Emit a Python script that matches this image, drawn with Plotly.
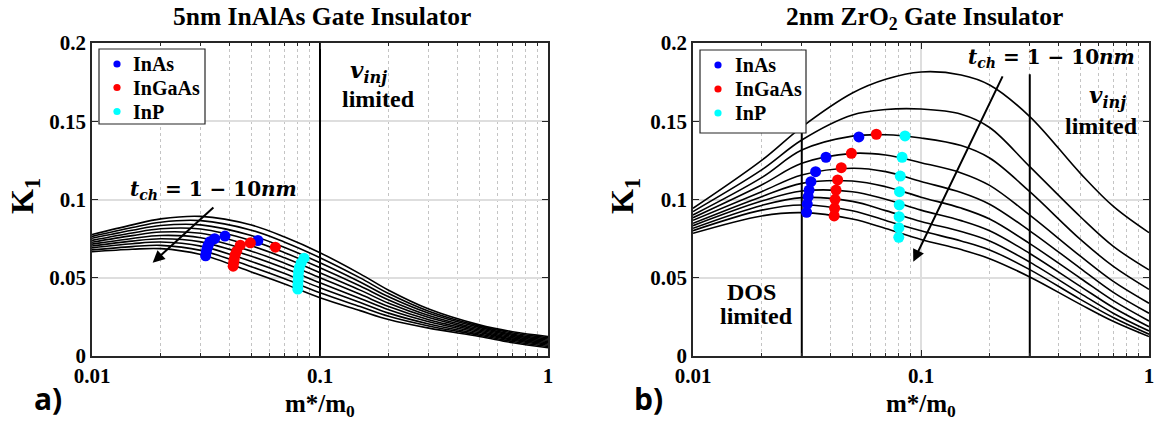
import math
import plotly.graph_objects as go

# ---------------- data ----------------
# effective mass grid (m*/m0) used to sample the curves
m_a = [0.01, 0.015, 0.02, 0.03, 0.05, 0.07, 0.1, 0.15, 0.2, 0.3, 0.5, 0.7, 1.0]
m_b = [0.01, 0.02, 0.03, 0.05, 0.07, 0.1, 0.15, 0.2, 0.3, 0.5, 0.7, 1.0]

# panel a) 5nm InAlAs insulator, t_ch = 1..10 nm (top to bottom)
a_t1 = [0.0776, 0.0838, 0.0876, 0.0892, 0.0837, 0.0760, 0.0660, 0.0525, 0.0420, 0.0300, 0.0199, 0.0155, 0.0125]
a_t2 = [0.0764, 0.0821, 0.0855, 0.0865, 0.0804, 0.0727, 0.0628, 0.0499, 0.0399, 0.0286, 0.0191, 0.0147, 0.0117]
a_t3 = [0.0752, 0.0803, 0.0834, 0.0838, 0.0770, 0.0693, 0.0596, 0.0473, 0.0378, 0.0273, 0.0183, 0.0139, 0.0109]
a_t4 = [0.0739, 0.0786, 0.0813, 0.0811, 0.0737, 0.0660, 0.0564, 0.0447, 0.0358, 0.0259, 0.0174, 0.0132, 0.0101]
a_t5 = [0.0727, 0.0769, 0.0792, 0.0784, 0.0704, 0.0627, 0.0532, 0.0421, 0.0337, 0.0246, 0.0166, 0.0124, 0.0093]
a_t6 = [0.0715, 0.0751, 0.0770, 0.0756, 0.0670, 0.0593, 0.0500, 0.0394, 0.0316, 0.0232, 0.0158, 0.0116, 0.0085]
a_t7 = [0.0703, 0.0734, 0.0749, 0.0729, 0.0637, 0.0560, 0.0468, 0.0368, 0.0295, 0.0219, 0.0150, 0.0108, 0.0077]
a_t8 = [0.0691, 0.0717, 0.0728, 0.0702, 0.0604, 0.0527, 0.0436, 0.0342, 0.0274, 0.0205, 0.0141, 0.0101, 0.0069]
a_t9 = [0.0678, 0.0699, 0.0707, 0.0675, 0.0570, 0.0493, 0.0404, 0.0316, 0.0254, 0.0192, 0.0133, 0.0093, 0.0061]
a_t10 = [0.0666, 0.0682, 0.0686, 0.0648, 0.0537, 0.0460, 0.0372, 0.0290, 0.0233, 0.0178, 0.0125, 0.0085, 0.0053]

# panel b) 2nm ZrO2 insulator, t_ch = 1..10 nm (top to bottom)
b_t1 = [0.0944, 0.1250, 0.1463, 0.1680, 0.1768, 0.1815, 0.1796, 0.1732, 0.1530, 0.1167, 0.0954, 0.0788]
b_t2 = [0.0923, 0.1189, 0.1380, 0.1540, 0.1575, 0.1578, 0.1545, 0.1460, 0.1210, 0.0890, 0.0699, 0.0550]
b_t3 = [0.0901, 0.1140, 0.1316, 0.1405, 0.1414, 0.1393, 0.1345, 0.1265, 0.1050, 0.0745, 0.0571, 0.0426]
b_t4 = [0.0884, 0.1093, 0.1231, 0.1295, 0.1284, 0.1235, 0.1170, 0.1090, 0.0900, 0.0638, 0.0475, 0.0337]
b_t5 = [0.0867, 0.1050, 0.1157, 0.1200, 0.1178, 0.1115, 0.1045, 0.0970, 0.0800, 0.0560, 0.0405, 0.0273]
b_t6 = [0.0848, 0.1018, 0.1103, 0.1118, 0.1082, 0.1015, 0.0945, 0.0875, 0.0718, 0.0497, 0.0352, 0.0224]
b_t7 = [0.0833, 0.0990, 0.1054, 0.1050, 0.1001, 0.0932, 0.0865, 0.0800, 0.0655, 0.0445, 0.0308, 0.0187]
b_t8 = [0.0816, 0.0962, 0.1012, 0.0988, 0.0929, 0.0860, 0.0795, 0.0735, 0.0600, 0.0400, 0.0272, 0.0160]
b_t9 = [0.0801, 0.0932, 0.0965, 0.0928, 0.0866, 0.0800, 0.0735, 0.0678, 0.0552, 0.0362, 0.0244, 0.0139]
b_t10 = [0.0784, 0.0895, 0.0916, 0.0875, 0.0815, 0.0745, 0.0680, 0.0622, 0.0505, 0.0330, 0.0220, 0.0124]

# material points (t_ch = 3..10 nm)
inas_m = [0.0534, 0.0383, 0.0345, 0.0329, 0.0323, 0.0320, 0.0317, 0.0315]
ingaas_m = [0.0637, 0.0495, 0.0447, 0.0431, 0.0424, 0.0420, 0.0418, 0.0416]
inp_m = [0.0851, 0.0826, 0.0811, 0.0805, 0.0803, 0.0802, 0.0800, 0.0799]

inas_Ka = [0.0738, 0.0766, 0.0750, 0.0730, 0.0706, 0.0688, 0.0665, 0.0640]
ingaas_Ka = [0.0695, 0.0723, 0.0708, 0.0670, 0.0644, 0.0617, 0.0596, 0.0574]
inp_Ka = [0.0625, 0.0595, 0.0565, 0.0537, 0.0508, 0.0480, 0.0453, 0.0428]

inas_Kb = [0.1400, 0.1270, 0.1178, 0.1114, 0.1060, 0.1018, 0.0971, 0.0918]
ingaas_Kb = [0.1417, 0.1295, 0.1203, 0.1125, 0.1060, 0.1001, 0.0944, 0.0895]
inp_Kb = [0.1406, 0.1270, 0.1150, 0.1050, 0.0965, 0.0890, 0.0820, 0.0758]

materials = ["InAs", "InGaAs", "InP"]
mat_colors = ["#0000ff", "#ff0000", "#00ffff"]

# limit lines (m*/m0 positions)
vinj_a = 0.1
dos_b = 0.03
vinj_b = 0.3

x_ticks = [0.01, 0.1, 1]
x_ticktext = ["0.01", "0.1", "1"]
y_ticks = [0, 0.05, 0.1, 0.15, 0.2]
y_ticktext = ["0", "0.05", "0.1", "0.15", "0.2"]
minor_vals = [0.02, 0.03, 0.04, 0.05, 0.06, 0.07, 0.08, 0.09,
              0.2, 0.3, 0.4, 0.5, 0.6, 0.7, 0.8, 0.9]

# ---------------- figure ----------------
W, H = 1159, 428
ML, MR, MT, MB = 92, 10, 43, 72
PW, PH = W - ML - MR, H - MT - MB
SERIF = "Liberation Serif"

fig = go.Figure()

curves_a = [a_t1, a_t2, a_t3, a_t4, a_t5, a_t6, a_t7, a_t8, a_t9, a_t10]
curves_b = [b_t1, b_t2, b_t3, b_t4, b_t5, b_t6, b_t7, b_t8, b_t9, b_t10]

for ys in curves_a:
    fig.add_trace(go.Scatter(x=m_a, y=ys, mode="lines", xaxis="x", yaxis="y",
                             line=dict(color="black", width=1.6, shape="spline", smoothing=1.0),
                             showlegend=False, hoverinfo="skip"))
for ys in curves_b:
    fig.add_trace(go.Scatter(x=m_b, y=ys, mode="lines", xaxis="x2", yaxis="y2",
                             line=dict(color="black", width=1.6, shape="spline", smoothing=1.0),
                             showlegend=False, hoverinfo="skip"))

# limit lines
fig.add_trace(go.Scatter(x=[vinj_a, vinj_a], y=[0, 0.2], mode="lines", xaxis="x", yaxis="y",
                         line=dict(color="black", width=2), showlegend=False))
fig.add_trace(go.Scatter(x=[dos_b, dos_b], y=[0, 0.18], mode="lines", xaxis="x2", yaxis="y2",
                         line=dict(color="black", width=2), showlegend=False))
fig.add_trace(go.Scatter(x=[vinj_b, vinj_b], y=[0, 0.18], mode="lines", xaxis="x2", yaxis="y2",
                         line=dict(color="black", width=2), showlegend=False))

# material points
ms = [inas_m, ingaas_m, inp_m]
Ka = [inas_Ka, ingaas_Ka, inp_Ka]
Kb = [inas_Kb, ingaas_Kb, inp_Kb]
for name, col, mm, ka, kb in zip(materials, mat_colors, ms, Ka, Kb):
    fig.add_trace(go.Scatter(x=mm, y=ka, mode="markers", xaxis="x", yaxis="y", name=name,
                             marker=dict(color=col, size=11), showlegend=False))
    fig.add_trace(go.Scatter(x=mm, y=kb, mode="markers", xaxis="x2", yaxis="y2", name=name,
                             marker=dict(color=col, size=11), showlegend=False))


def PX(px):
    return (px - ML) / PW


def PY(py):
    return (H - MB - py) / PH


xd_a = [PX(92), PX(548)]
xd_b = [PX(693), PX(1149)]
yd = [0, 1]

tickfont = dict(family=SERIF, size=21, color="black", weight="bold")
axis_line = "#262626"


def xaxis(domain, anchor):
    return dict(type="log", domain=domain, anchor=anchor, range=[-2, 0], automargin=False,
                tickvals=x_ticks, ticktext=x_ticktext, tickfont=tickfont,
                ticks="inside", ticklen=6, tickcolor=axis_line, tickwidth=1,
                showline=True, linecolor=axis_line, linewidth=1.5, mirror="ticks",
                showgrid=True, gridcolor="#dedede", gridwidth=1.5, zeroline=False,
                minor=dict(tickvals=minor_vals, ticks="inside", ticklen=3, tickcolor=axis_line,
                           showgrid=True, gridcolor="#c4c4c4", griddash="dot", gridwidth=1))


def yaxis(domain, anchor):
    return dict(domain=domain, anchor=anchor, range=[0, 0.2], automargin=False,
                tickvals=y_ticks, ticktext=y_ticktext, tickfont=tickfont,
                ticks="inside", ticklen=6, tickcolor=axis_line, tickwidth=1,
                showline=True, linecolor=axis_line, linewidth=1.5, mirror="ticks",
                showgrid=True, gridcolor="#dedede", gridwidth=1.5, zeroline=False)


fig.update_layout(
    width=W, height=H,
    margin=dict(l=ML, r=MR, t=MT, b=MB, autoexpand=False),
    paper_bgcolor="white", plot_bgcolor="white",
    showlegend=False,
    xaxis=xaxis(xd_a, "y"), yaxis=yaxis(yd, "x"),
    xaxis2=xaxis(xd_b, "y2"), yaxis2=yaxis(yd, "x2"),
)

bold = dict(family=SERIF, color="black", weight="bold")
math_font = dict(family="DejaVu Serif", size=20, color="black", weight="bold")

annots = []
shapes = []


def txt(text, px, py, font, anchor="center", **kw):
    annots.append(dict(text=text, x=PX(px), y=PY(py), xref="paper", yref="paper", showarrow=False,
                       font=font, xanchor=anchor, yanchor="middle", **kw))


# legend boxes (one per panel) with the material swatches
def legend_box(x0, y0, x1, y1, mark_x, text_x, rows_y):
    shapes.append(dict(type="rect", xref="paper", yref="paper",
                       x0=PX(x0), x1=PX(x1), y0=PY(y1), y1=PY(y0),
                       line=dict(color="#262626", width=1.2), fillcolor="white", layer="above"))
    for name, col, ry in zip(materials, mat_colors, rows_y):
        shapes.append(dict(type="circle", xref="paper", yref="paper",
                           xsizemode="pixel", ysizemode="pixel",
                           xanchor=PX(mark_x), yanchor=PY(ry), x0=-3.6, x1=3.6, y0=-3.6, y1=3.6,
                           fillcolor=col, line=dict(width=0), layer="above"))
        txt(name, text_x, ry, dict(size=20, **bold), anchor="left")


legend_box(99, 49, 205, 124, 117, 131, [64, 87.5, 111.5])
legend_box(700, 50, 806, 133, 718, 733, [65, 89, 113])

txt("5nm InAlAs Gate Insulator", 322, 16, dict(size=25.5, **bold))
txt("2nm ZrO<sub>2</sub> Gate Insulator", 924, 18, dict(size=25.5, **bold))
txt("<i>t</i><sub><i>ch</i></sub> = 1 − 10<i>nm</i>", 213, 190, math_font)
txt("<i>t</i><sub><i>ch</i></sub> = 1 − 10<i>nm</i>", 1051, 58, math_font)
txt("<i>v</i><sub><i>inj</i></sub>", 368, 71, dict(family="DejaVu Serif", size=23, color="black", weight="bold"))
txt("limited", 378, 99, dict(size=24, **bold))
txt("<i>v</i><sub><i>inj</i></sub>", 1107, 96, dict(family="DejaVu Serif", size=23, color="black", weight="bold"))
txt("limited", 1101, 126, dict(size=24, **bold))
txt("DOS", 751, 292, dict(size=24, **bold))
txt("limited", 756, 316, dict(size=24, **bold))
txt("a)", 48, 398, dict(family="Open Sans", size=30, color="black", weight="bold"))
txt("b)", 648, 398, dict(family="Open Sans", size=30, color="black", weight="bold"))
# axis titles
txt("m*/m<sub>0</sub>", 320, 405, dict(size=25, **bold))
txt("m*/m<sub>0</sub>", 921, 405, dict(size=25, **bold))
txt("K<sub>1</sub>", 24, 196, dict(size=32, **bold), textangle=-90)
txt("K<sub>1</sub>", 624, 196, dict(size=32, **bold), textangle=-90)

# arrows (log axes -> annotation coordinates in log10 units)
annots.append(dict(x=math.log10(0.01845), y=0.0596, ax=math.log10(0.0346), ay=0.0957,
                   xref="x", yref="y", axref="x", ayref="y", text="", showarrow=True,
                   arrowhead=2, arrowsize=1.2, arrowwidth=2, arrowcolor="black"))
annots.append(dict(x=math.log10(0.0925), y=0.0603, ax=math.log10(0.2296), ay=0.1796,
                   xref="x2", yref="y2", axref="x2", ayref="y2", text="", showarrow=True,
                   arrowhead=2, arrowsize=1.2, arrowwidth=2, arrowcolor="black"))

fig.update_layout(annotations=annots, shapes=shapes)

fig.write_html("out.html", config={"displayModeBar": False},
               post_script="document.body.style.margin='0px';")
